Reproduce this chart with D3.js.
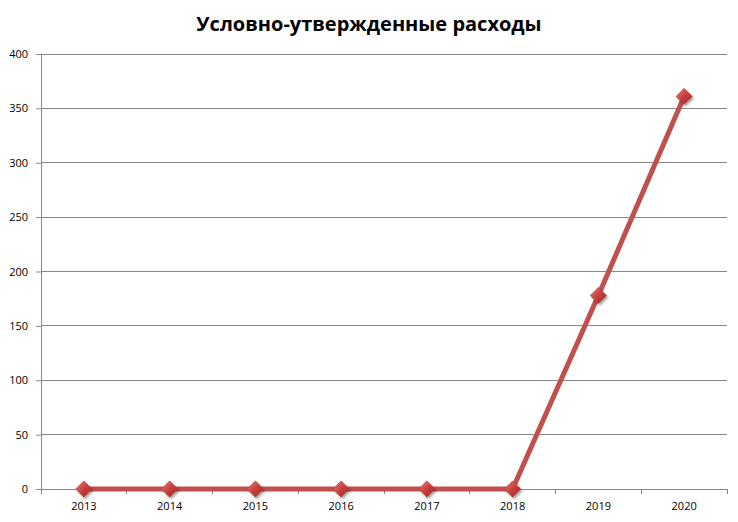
<!DOCTYPE html>
<html><head><meta charset="utf-8">
<script src="https://cdn.jsdelivr.net/npm/d3@7"></script>
<style>body{margin:0;background:#fff}svg{display:block}</style>
</head><body>
<div id="chart"></div>
<script>
const title = "Условно-утвержденные расходы";
const categories = ["2013","2014","2015","2016","2017","2018","2019","2020"];
const values = [0, 0, 0, 0, 0, 0, 178, 361];
const yTicks = [0,50,100,150,200,250,300,350,400];

const W = 738, H = 522;
const m = {left:41, right:11, top:54, bottom:33};
const svg = d3.select("#chart").append("svg").attr("width",W).attr("height",H);

const defs = svg.append("defs");
const g1 = defs.append("linearGradient").attr("id","mk").attr("x1","0").attr("y1","0").attr("x2","1").attr("y2","1");
g1.append("stop").attr("offset","0").attr("stop-color","#e8807c");
g1.append("stop").attr("offset","0.5").attr("stop-color","#c9403c");
g1.append("stop").attr("offset","1").attr("stop-color","#962825");
const f = defs.append("filter").attr("id","sh").attr("x","-50%").attr("y","-50%").attr("width","200%").attr("height","200%");
f.append("feDropShadow").attr("dx",1.5).attr("dy",2).attr("stdDeviation",1.3).attr("flood-color","#000").attr("flood-opacity",0.35);

const x = d3.scaleBand().domain(categories).range([m.left, W-m.right]);
const y = d3.scaleLinear().domain([0,400]).range([H-m.bottom, m.top]);

svg.append("text").attr("x",W/2).attr("y",31).attr("text-anchor","middle")
  .attr("font-family","'Open Sans', 'DejaVu Sans', sans-serif").attr("font-weight","bold").attr("font-size",20)
  .attr("fill","#000").text(title);

// grid
svg.append("g").selectAll("line").data(yTicks.filter(d=>d>0)).join("line")
  .attr("x1",m.left).attr("x2",W-m.right).attr("y1",d=>y(d)).attr("y2",d=>y(d))
  .attr("stroke","#878787").attr("stroke-width",1).attr("shape-rendering","crispEdges");

// y axis
const ya = svg.append("g").attr("transform",`translate(${m.left},0)`)
  .call(d3.axisLeft(y).tickValues(yTicks).tickSize(5).tickSizeOuter(0).tickPadding(8));
ya.select(".domain").attr("stroke","#878787");
ya.selectAll(".tick line").attr("stroke","#878787");
ya.selectAll("text").attr("font-family","'Open Sans', 'DejaVu Sans', sans-serif").attr("font-size",11).attr("fill","#000");

// x axis
const xa = svg.append("g").attr("transform",`translate(0,${y(0)})`)
  .call(d3.axisBottom(x).tickSize(0).tickPadding(13).tickSizeOuter(0));
xa.select(".domain").attr("stroke","#878787");
xa.selectAll("text").attr("font-family","'Open Sans', 'DejaVu Sans', sans-serif").attr("font-size",11).attr("fill","#000");
// tick marks at band boundaries
const bounds = categories.map(c=>x(c)).concat([x(categories[categories.length-1])+x.bandwidth()]);
svg.append("g").selectAll("line").data(bounds).join("line")
  .attr("x1",d=>d).attr("x2",d=>d).attr("y1",y(0)).attr("y2",y(0)+5)
  .attr("stroke","#878787").attr("shape-rendering","crispEdges");

// line
const line = d3.line().x((d,i)=>x(categories[i])+x.bandwidth()/2).y(d=>y(d));
svg.append("path").datum(values).attr("d",line).attr("fill","none")
  .attr("stroke","#c0504d").attr("stroke-width",5).attr("stroke-linejoin","round");

// markers
const sym = d3.symbol().type(d3.symbolDiamond2).size(170);
svg.append("g").selectAll("path").data(values).join("path")
  .attr("transform",(d,i)=>`translate(${x(categories[i])+x.bandwidth()/2},${y(d)})`)
  .attr("d",sym).attr("fill","url(#mk)").attr("stroke","#b03a36").attr("stroke-width",0.5)
  .attr("filter","url(#sh)");
</script>
</body></html>
